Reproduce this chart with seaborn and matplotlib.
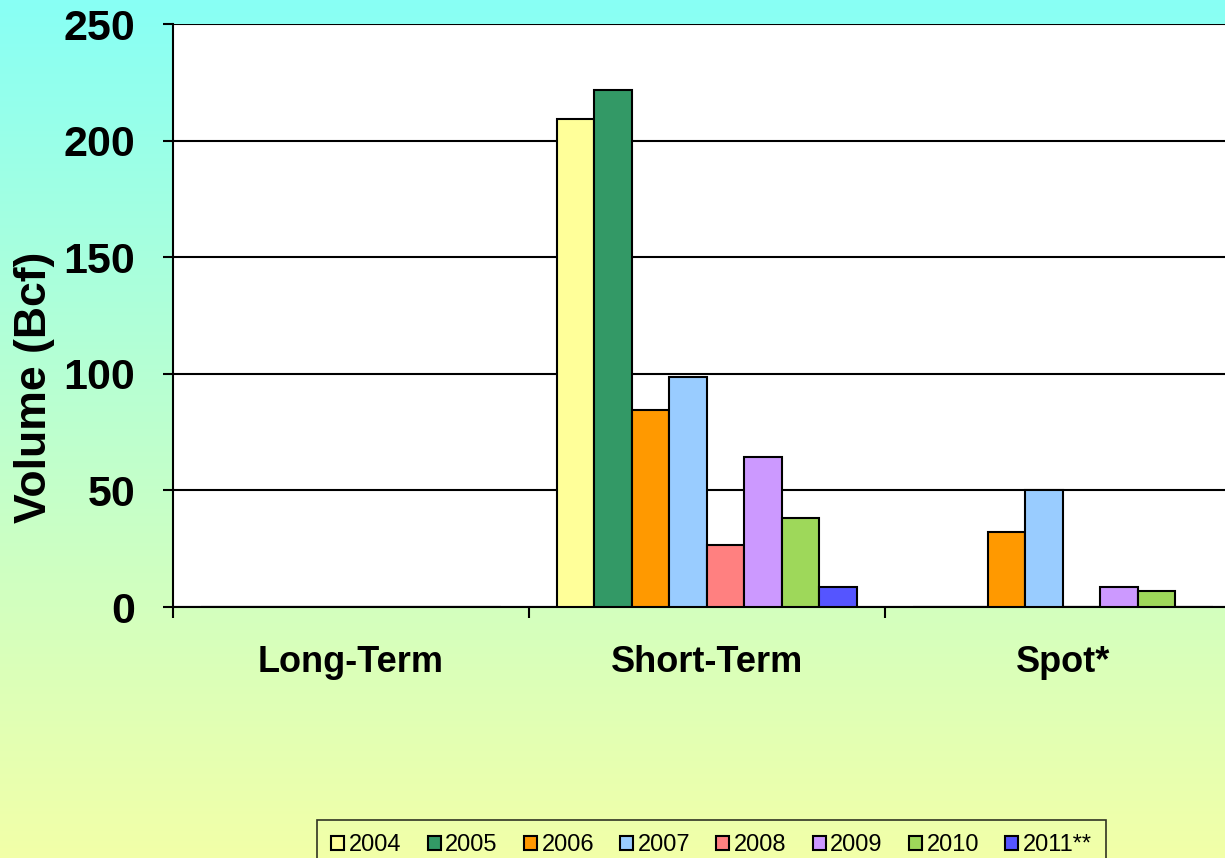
import numpy as np
import pandas as pd
import seaborn as sns
import matplotlib.pyplot as plt

# values (Bcf)
categories = ["Long-Term", "Short-Term", "Spot*"]
years = ["2004", "2005", "2006", "2007", "2008", "2009", "2010", "2011**"]
long_term = [0, 0, 0, 0, 0, 0, 0, 0]
short_term = [209.3, 221.7, 84.5, 98.6, 26.6, 64.3, 38.2, 8.6]
spot = [0, 0, 32.2, 50.2, 0, 8.6, 6.9, 0]
colors = ["#FFFF99", "#339966", "#FF9900", "#99CCFF", "#FF8080", "#CC99FF", "#9ED85A", "#5555FF"]

rows = []
for cat, vals in zip(categories, [long_term, short_term, spot]):
    for y, v in zip(years, vals):
        rows.append({"Category": cat, "Year": y, "Volume": v})
df = pd.DataFrame(rows)

sns.set_style("white")
plt.rcParams["font.family"] = ["Liberation Sans", "DejaVu Sans"]
plt.rcParams["text.color"] = "black"
plt.rcParams["axes.labelcolor"] = "black"
plt.rcParams["xtick.color"] = "black"
plt.rcParams["ytick.color"] = "black"

fig = plt.figure(figsize=(12.25, 8.58), dpi=100)

# gradient background: cyan at top to pale yellow at bottom
top = np.array([136, 255, 245]) / 255
bottom = np.array([242, 255, 168]) / 255
t = np.linspace(0, 1, 256)[:, None]
grad = (top * (1 - t) + bottom * t)[:, None, :]
bg = fig.add_axes([0, 0, 1, 1], zorder=-1)
bg.imshow(grad, aspect="auto", extent=[0, 1, 0, 1])
bg.axis("off")

ax = fig.add_axes([0.1412, 0.2925, 0.8718, 0.6795])
ax.set_facecolor("white")
sns.barplot(data=df, x="Category", y="Volume", hue="Year", palette=colors, saturation=1,
            width=0.843, edgecolor="black", linewidth=1.5, ax=ax, zorder=3)

ax.set_ylim(0, 250)
ax.set_xlim(-0.5, 2.5)
ax.set_yticks([0, 50, 100, 150, 200, 250])
ax.yaxis.grid(True, color="black", linewidth=1.5, zorder=0)
ax.set_axisbelow(True)
for s in ["top", "right"]:
    ax.spines[s].set_visible(False)
ax.spines["left"].set_color("black")
ax.spines["left"].set_linewidth(1.5)
ax.spines["bottom"].set_color("black")
ax.spines["bottom"].set_linewidth(1.5)

ax.tick_params(axis="y", length=7, width=1.5, color="black", direction="out", left=True,
               labelsize=31, pad=20)
ax.tick_params(axis="x", which="major", length=0, labelsize=26, pad=27)
ax.set_xticks([-0.5, 0.5, 1.5, 2.5], minor=True)
ax.tick_params(axis="x", which="minor", length=8, width=1.5, color="black", direction="out", bottom=True)
for lab in ax.get_yticklabels() + ax.get_xticklabels():
    lab.set_fontweight("bold")

ax.set_xlabel("")
ax.set_ylabel("Volume (Bcf)", fontsize=32, fontweight="bold")
ax.yaxis.set_label_coords(-0.11, 0.377)

handles, labels = ax.get_legend_handles_labels()
ax.legend_.remove()
leg = fig.legend(handles, labels, loc="upper left", bbox_to_anchor=(0.259, 0.0443),
                 borderaxespad=0, ncol=8, frameon=True, fancybox=False, fontsize=17,
                 handlelength=0.55, handleheight=0.55, handletextpad=0.2, columnspacing=1.1,
                 borderpad=0.6)
leg.get_frame().set_edgecolor("black")
leg.get_frame().set_linewidth(1.2)
leg.get_frame().set_facecolor("none")

fig.savefig("out.png", dpi=100)
